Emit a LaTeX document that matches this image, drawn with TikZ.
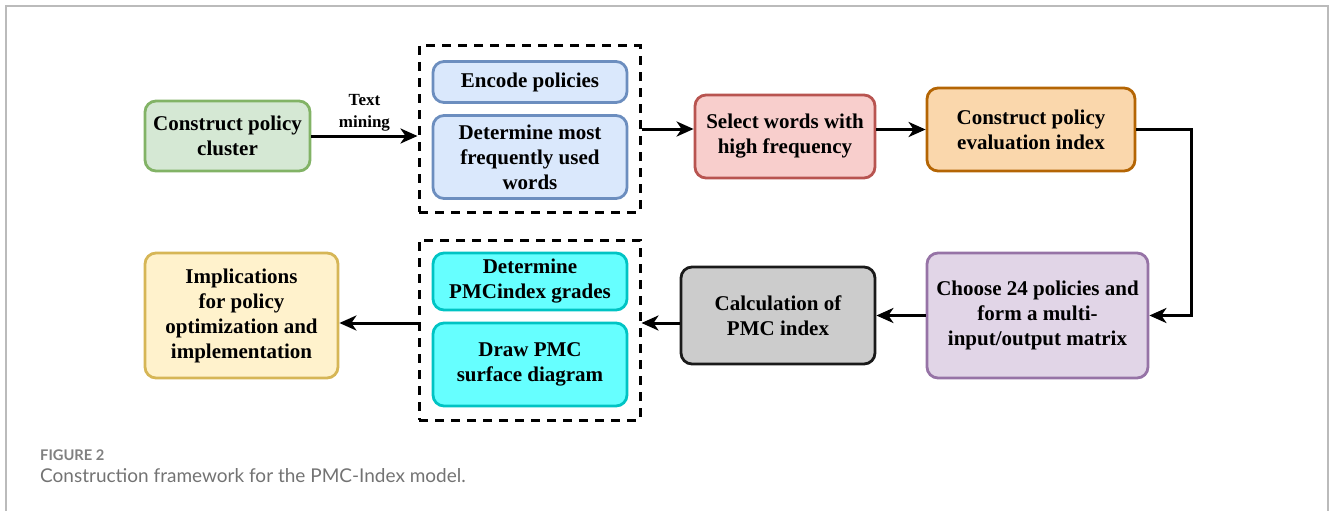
\documentclass[tikz,border=0pt]{standalone}
\usepackage{fontspec}
\setmainfont{Liberation Serif}
\newfontfamily\capfont{Lato}
\usetikzlibrary{arrows.meta}
\definecolor{gfill}{HTML}{D5E8D4}\definecolor{gline}{HTML}{82B366}
\definecolor{bfill}{HTML}{DAE8FC}\definecolor{bline}{HTML}{6C8EBF}
\definecolor{rfill}{HTML}{F8CECC}\definecolor{rline}{HTML}{B85450}
\definecolor{ofill}{HTML}{FAD7AC}\definecolor{oline}{HTML}{B46504}
\definecolor{pfill}{HTML}{E1D5E7}\definecolor{pline}{HTML}{9673A6}
\definecolor{kfill}{HTML}{CCCCCC}\definecolor{kline}{HTML}{1A1A1A}
\definecolor{cfill}{HTML}{66FFFF}\definecolor{cline}{HTML}{00C4C4}
\definecolor{yfill}{HTML}{FFF2CC}\definecolor{yline}{HTML}{D6B656}
\definecolor{frame}{HTML}{BBBBBB}
\definecolor{capgray}{HTML}{808080}
\begin{document}
\begin{tikzpicture}[x=1pt,y=-1pt,
  box/.style={draw, line width=2.8pt, rounded corners=11pt, align=center,
    font=\fontsize{21}{25}\selectfont\bfseries, inner sep=0pt},
  arr/.style={-{Stealth[length=17pt,width=15pt,inset=5pt]}, line width=3pt},
  grp/.style={draw, dash pattern=on 9pt off 7pt, line width=3pt, inner sep=0pt}]
\useasboundingbox (0,0) rectangle (1330,511);
\draw[frame, line width=1.5pt] (6,511) -- (6,6) -- (1328,6) -- (1328,511);

\node[grp, minimum width=221pt, minimum height=166pt] (g1) at (529.5,129) {};
\node[grp, minimum width=221pt, minimum height=180pt] (g2) at (529.5,330) {};

\node[box, fill=gfill, draw=gline, minimum width=165pt, minimum height=70pt] (cluster) at (227.5,136) {Construct policy\\cluster};
\node[box, fill=bfill, draw=bline, minimum width=194pt, minimum height=41pt] (encode) at (530,82) {Encode policies};
\node[box, fill=bfill, draw=bline, minimum width=194pt, minimum height=83pt] (freq) at (530,157) {Determine most\\frequently used\\words};
\node[box, fill=rfill, draw=rline, minimum width=180pt, minimum height=83pt] (select) at (785,136.5) {Select words with\\high frequency};
\node[box, fill=ofill, draw=oline, minimum width=208pt, minimum height=83pt] (index) at (1031,129.5) {Construct policy\\evaluation index};
\node[box, fill=pfill, draw=pline, minimum width=221pt, minimum height=125pt] (choose) at (1037.5,315.5) {Choose 24 policies and\\form a multi-\\input/output matrix};
\node[box, fill=kfill, draw=kline, minimum width=194pt, minimum height=97pt] (calc) at (778,315.5) {Calculation of\\PMC index};
\node[box, fill=cfill, draw=cline, minimum width=194pt, minimum height=57pt] (grades) at (530,281.5) {Determine\\PMCindex grades};
\node[box, fill=cfill, draw=cline, minimum width=194pt, minimum height=83pt] (surface) at (530,364.5) {Draw PMC\\surface diagram};
\node[box, fill=yfill, draw=yline, minimum width=193pt, minimum height=125pt] (impl) at (241.5,315.5) {Implications\\for policy\\optimization and\\implementation};

\coordinate (ly) at (0,323);
\draw[arr] (cluster.east) -- (cluster.east -| g1.west)
  node[midway, above=0pt, align=center, font=\fontsize{17}{22}\selectfont\bfseries] (tm) {Text\\mining};
\draw[arr] (g1.east) -- (g1.east -| select.west);
\draw[arr] (index.west -| select.east) -- (index.west);
\draw[arr] (index.east) -- ++(55,0) |- (choose.east);
\draw[arr] (choose.west) -- (calc.east);
\draw[arr] (calc.west |- ly) -- (g2.east |- ly);
\draw[arr] (g2.west |- ly) -- (impl.east |- ly);

\node[anchor=base west, inner sep=0pt, text=capgray, font=\capfont\bfseries\fontsize{14.7}{16}\selectfont] (fig) at (40,460) {FIGURE 2};
\node[anchor=base west, inner sep=0pt, text=capgray!90!black, font=\capfont\fontsize{19}{22}\selectfont] (cap) at (40,482) {Construction framework for the PMC-Index model.};
\end{tikzpicture}
\end{document}
